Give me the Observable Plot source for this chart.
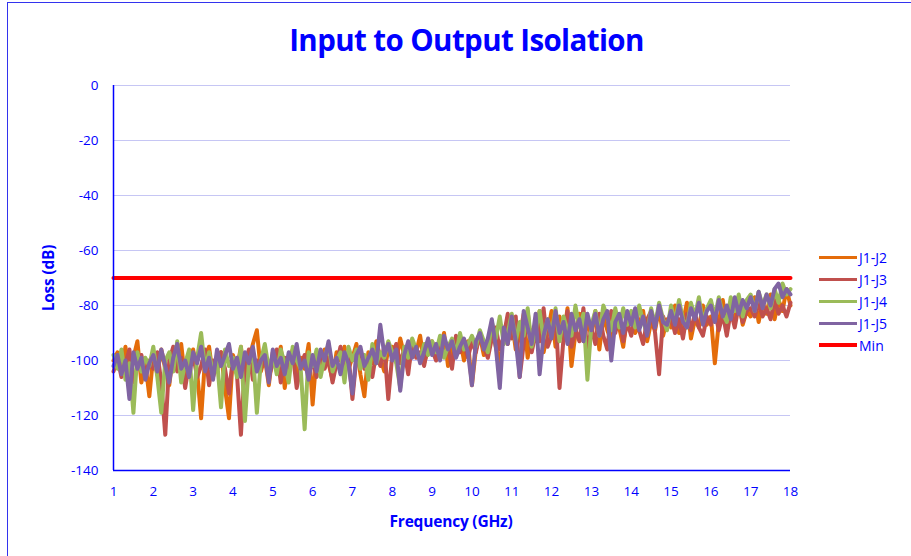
<!DOCTYPE html>
<html>
<head>
<meta charset="utf-8">
<script src="https://cdn.jsdelivr.net/npm/d3@7"></script>
<script src="https://cdn.jsdelivr.net/npm/@observablehq/plot@0.6"></script>
<style>
  html, body { margin: 0; padding: 0; background: #fff; }
  body { width: 911px; height: 556px; position: relative; overflow: hidden; font-family: "Open Sans", "Liberation Sans", sans-serif; color: #0000ff; }
  #frame { position: absolute; left: 7px; top: 2px; width: 1000px; height: 700px; border-left: 1.5px solid #3333ee; border-top: 1.5px solid #3333ee; }
  #title { position: absolute; left: 0; width: 933px; top: 19px; text-align: center; font-weight: 700; font-size: 29.5px; letter-spacing: -0.6px; color: #0000ff; }
  #chart { position: absolute; left: 0; top: 60px; }
  #ylab { position: absolute; left: 48px; top: 278px; transform: translate(-50%, -50%) rotate(-90deg); font-weight: 700; font-size: 15.5px; letter-spacing: -0.2px; white-space: nowrap; }
  #xlab { position: absolute; left: 451px; top: 521px; transform: translate(-50%, -50%); font-weight: 700; font-size: 15.5px; letter-spacing: -0.2px; white-space: nowrap; }
  #legend { position: absolute; left: 819px; top: 246px; font-size: 14px; }
  .item { display: flex; align-items: center; height: 22px; }
  .swatch { width: 38px; height: 3px; margin-right: 2px; }
</style>
</head>
<body>
<div id="frame"></div>
<div id="title">Input to Output Isolation</div>
<div id="chart"></div>
<div id="ylab">Loss (dB)</div>
<div id="xlab">Frequency (GHz)</div>
<div id="legend"></div>
<script>
// Frequency grid: 1.0 .. 18.0 GHz, 0.1 GHz step
const freqStart = 1, freqStep = 0.1, freqCount = 171;

const seriesNames = ["J1-J2", "J1-J3", "J1-J4", "J1-J5"];
const seriesColors = ["#e46c0a", "#c0504d", "#9bbb59", "#8064a2"];
const minName = "Min";
const minColor = "#ff0000";
const minFreq = [1, 18];
const minLoss = [-70, -70];

const xTicks = [1,2,3,4,5,6,7,8,9,10,11,12,13,14,15,16,17,18];
const yTicks = [0,-20,-40,-60,-80,-100,-120,-140];

const j1j2 = [
 -100,-97,-104,-95,-106,-99,-93,-108,-101,-113,
 -98,-105,-96,-103,-109,-97,-102,-94,-107,-100,
 -96,-104,-121,-99,-95,-106,-101,-97,-110,-121,
 -98,-103,-95,-107,-100,-94,-89,-104,-99,-109,
 -97,-102,-95,-110,-100,-96,-105,-99,-103,-94,
 -116,-98,-104,-96,-101,-107,-97,-100,-95,-103,
 -99,-94,-105,-113,-97,-101,-93,-99,-104,-96,
 -95,-100,-92,-98,-103,-94,-97,-91,-101,-96,
 -93,-99,-95,-90,-102,-94,-97,-92,-100,-93,
 -109,-96,-91,-98,-93,-88,-95,-101,-90,-94,
 -85,-96,-91,-83,-99,-89,-93,-82,-97,-90,
 -82,-95,-84,-92,-81,-102,-90,-83,-93,-86,
 -91,-82,-96,-84,-89,-93,-82,-88,-95,-84,
 -84,-90,-87,-82,-93,-86,-89,-81,-91,-85,
 -88,-80,-90,-86,-79,-92,-85,-88,-80,-87,
 -84,-101,-86,-78,-88,-83,-85,-78,-87,-82,
 -84,-77,-86,-79,-83,-76,-85,-78,-82,-74,
 -80
];
const j1j3 = [
 -104,-99,-106,-101,-96,-108,-102,-98,-105,-100,
 -103,-97,-108,-127,-100,-95,-104,-99,-110,-101,
 -98,-106,-102,-96,-109,-100,-104,-97,-103,-112,
 -99,-105,-127,-101,-96,-107,-100,-103,-98,-106,
 -101,-96,-108,-99,-104,-97,-110,-102,-98,-105,
 -100,-106,-97,-103,-99,-108,-101,-95,-104,-98,
 -114,-99,-96,-103,-100,-106,-97,-102,-95,-114,
 -98,-94,-101,-96,-105,-93,-99,-97,-102,-94,
 -96,-100,-93,-98,-95,-103,-91,-97,-94,-99,
 -93,-97,-90,-95,-99,-92,-88,-96,-91,-83,
 -92,-84,-106,-94,-82,-97,-90,-93,-81,-95,
 -91,-83,-110,-92,-82,-95,-89,-93,-81,-97,
 -88,-94,-83,-91,-96,-82,-90,-84,-93,-86,
 -91,-84,-89,-94,-85,-82,-90,-105,-84,-88,
 -84,-90,-85,-92,-83,-89,-83,-88,-91,-84,
 -87,-82,-89,-83,-91,-82,-88,-80,-86,-82,
 -81,-84,-79,-84,-81,-85,-78,-83,-80,-84,
 -79
];
const j1j4 = [
 -98,-103,-96,-107,-101,-119,-97,-104,-99,-102,
 -95,-106,-119,-100,-97,-104,-93,-108,-101,-96,
 -118,-99,-90,-103,-97,-105,-100,-117,-96,-102,
 -99,-106,-95,-122,-101,-97,-119,-100,-94,-103,
 -98,-105,-96,-101,-108,-95,-100,-103,-125,-97,
 -102,-96,-106,-99,-94,-104,-100,-97,-108,-95,
 -100,-96,-103,-98,-107,-94,-101,-97,-99,-93,
 -97,-101,-110,-95,-99,-92,-96,-100,-94,-98,
 -93,-97,-91,-99,-95,-92,-98,-90,-96,-94,
 -91,-95,-89,-93,-97,-86,-92,-84,-94,-90,
 -83,-93,-86,-91,-81,-95,-89,-82,-92,-85,
 -90,-81,-93,-84,-89,-91,-80,-88,-83,-107,
 -87,-82,-91,-80,-84,-89,-81,-88,-81,-87,
 -82,-88,-80,-86,-90,-81,-87,-79,-85,-89,
 -80,-86,-78,-85,-88,-79,-84,-77,-86,-81,
 -78,-84,-77,-83,-86,-77,-82,-76,-84,-78,
 -76,-82,-75,-80,-76,-81,-74,-79,-72,-76,
 -74
];
const j1j5 = [
 -102,-98,-105,-100,-114,-97,-103,-99,-107,-101,
 -98,-104,-96,-102,-108,-99,-94,-103,-100,-106,
 -97,-101,-95,-104,-99,-107,-96,-102,-98,-94,
 -103,-99,-106,-97,-101,-95,-104,-100,-98,-108,
 -96,-102,-99,-105,-97,-101,-94,-103,-100,-107,
 -98,-104,-96,-100,-93,-102,-99,-105,-97,-101,
 -112,-98,-95,-102,-99,-96,-101,-87,-98,-94,
 -100,-96,-111,-98,-93,-99,-95,-101,-97,-92,
 -98,-94,-100,-91,-96,-93,-99,-95,-92,-97,
 -109,-93,-90,-96,-92,-85,-95,-110,-88,-94,
 -84,-93,-106,-82,-88,-94,-83,-105,-91,-85,
 -92,-82,-90,-86,-94,-83,-89,-85,-93,-83,
 -89,-83,-91,-85,-82,-100,-86,-83,-90,-82,
 -87,-81,-89,-84,-91,-82,-88,-80,-86,-87,
 -82,-87,-80,-86,-88,-81,-85,-79,-87,-82,
 -80,-86,-78,-84,-80,-85,-77,-83,-78,-81,
 -77,-82,-75,-81,-76,-80,-74,-72,-77,-74,
 -76
];

const seriesValues = [j1j2, j1j3, j1j4, j1j5];
const freqs = d3.range(freqCount).map(i => +(freqStart + i * freqStep).toFixed(2));

const rows = [];
seriesNames.forEach((name, si) => {
  seriesValues[si].forEach((v, i) => rows.push({ f: freqs[i], v, s: name }));
});
const minRows = minFreq.map((f, i) => ({ f, v: minLoss[i] }));

const axisColor = "#0000ff";
const chart = Plot.plot({
  width: 911,
  height: 480,
  marginLeft: 113,
  marginRight: 121,
  marginTop: 25,
  marginBottom: 70,
  style: { fontFamily: "'Open Sans', sans-serif", fontSize: "13.5px", color: axisColor, background: "transparent" },
  x: { domain: [1, 18] },
  y: { domain: [-140, 0] },
  color: { domain: seriesNames, range: seriesColors },
  marks: [
    Plot.gridY(yTicks, { stroke: "#c6c6f4", strokeOpacity: 1, strokeWidth: 1.2 }),
    Plot.line(rows, { x: "f", y: "v", z: "s", stroke: "s", strokeWidth: 4, strokeLinejoin: "round" }),
    Plot.line(minRows, { x: "f", y: "v", stroke: minColor, strokeWidth: 4 }),
    Plot.ruleX([1], { stroke: axisColor, strokeWidth: 1.5 }),
    Plot.ruleY([-140], { stroke: axisColor, strokeWidth: 1.5 }),
    Plot.axisX({ ticks: xTicks, tickSize: 0, tickPadding: 16, label: null, fill: axisColor, tickFormat: d => String(d) }),
    Plot.axisY({ ticks: yTicks, tickSize: 0, tickPadding: 15, label: null, fill: axisColor, tickFormat: d => String(d) })
  ]
});
document.getElementById("chart").appendChild(chart);

const legend = document.getElementById("legend");
const legendItems = seriesNames.map((n, i) => [n, seriesColors[i], 3]).concat([[minName, minColor, 4]]);
legendItems.forEach(([n, c, h]) => {
  const d = document.createElement("div");
  d.className = "item";
  d.innerHTML = `<span class="swatch" style="background:${c};height:${h}px"></span><span>${n}</span>`;
  legend.appendChild(d);
});
</script>
</body>
</html>
